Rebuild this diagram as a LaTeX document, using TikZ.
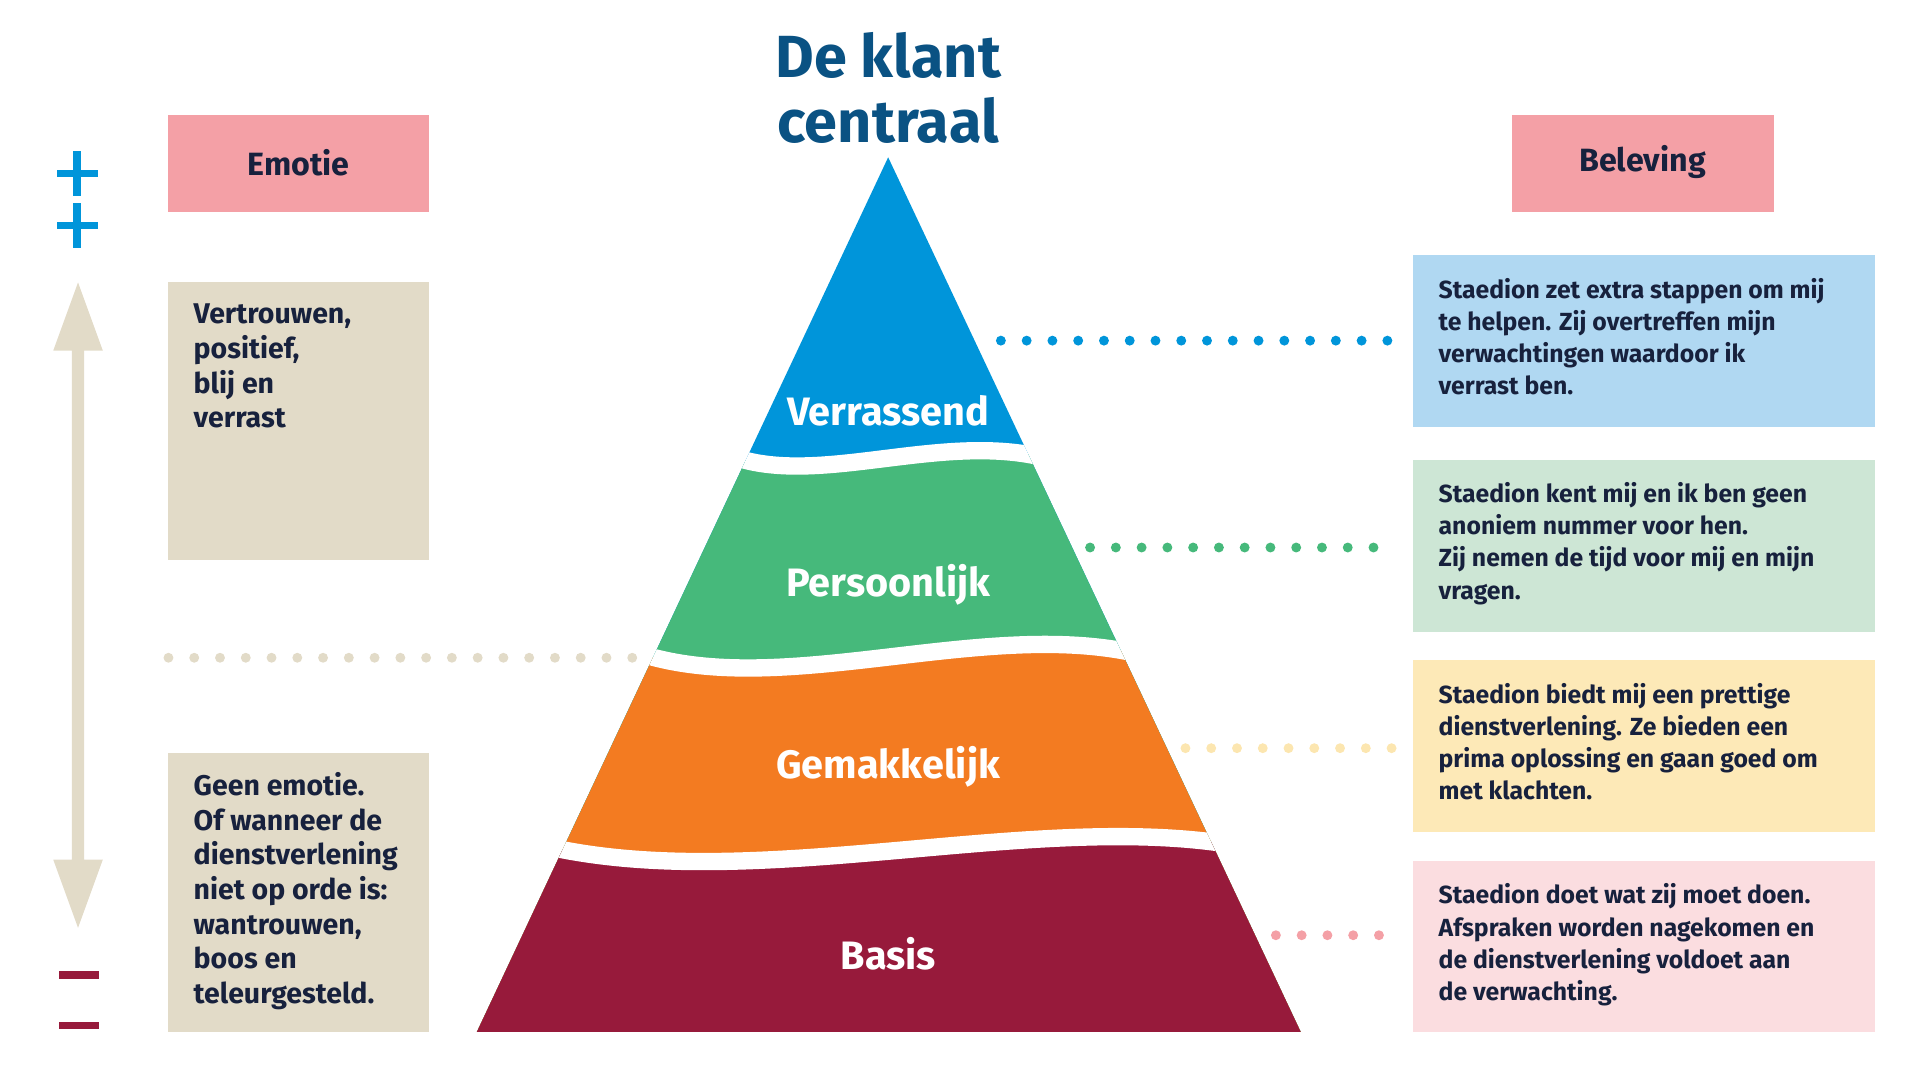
\documentclass[tikz,border=0pt]{standalone}
\usepackage{fontspec}
\setmainfont{Fira Sans}
\definecolor{tblue}{HTML}{0A5283}
\definecolor{pblue}{HTML}{0095DA}
\definecolor{pgreen}{HTML}{46B97B}
\definecolor{porange}{HTML}{F37B21}
\definecolor{pred}{HTML}{971A3B}
\definecolor{pink}{HTML}{F4A0A6}
\definecolor{beige}{HTML}{E2DBC8}
\definecolor{lblue}{HTML}{B0D8F2}
\definecolor{lgreen}{HTML}{CDE6D5}
\definecolor{lyellow}{HTML}{FDE9B7}
\definecolor{lyellowdot}{HTML}{FCE6B0}
\definecolor{lpink}{HTML}{FBDDE0}
\definecolor{ink}{HTML}{17213D}
\begin{document}
\begin{tikzpicture}[x=0.5pt,y=-0.5pt,
  btxt/.style={anchor=north west,align=left,text=ink,font=\fontsize{10}{13}\selectfont\bfseries,inner sep=0pt},
  ltxt/.style={anchor=north west,align=left,text=ink,font=\fontsize{11.5}{14}\selectfont\bfseries,inner sep=0pt},
  head/.style={text=ink,font=\fontsize{13}{15}\selectfont\bfseries},
  plab/.style={text=white,font=\fontsize{16}{18}\selectfont\bfseries},
  dots/.style={line width=4pt,line cap=round,dash pattern=on 0pt off 10.4pt}]
\useasboundingbox (0,0) rectangle (1550,871);
% header boxes
\fill[pink] (136,93) rectangle (346,171);
\node[head] (emo) at (241,131) {Emotie};
\fill[pink] (1221,93) rectangle (1432,171);
\node[head] (bel) at (1326,131) {Beleving};
% left boxes
\fill[beige] (136,228) rectangle (346,452);
\node[ltxt] (t1) at (156,245) {Vertrouwen,\\positief,\\blij en\\verrast};
\fill[beige] (136,608) rectangle (346,833);
\node[ltxt] (t2) at (156,623) {Geen emotie.\\Of wanneer de\\dienstverlening\\niet op orde is:\\wantrouwen,\\boos en\\teleurgesteld.};
% right boxes
\fill[lblue] (1141,206) rectangle (1514,345);
\node[btxt] (r1) at (1161,224) {Staedion zet extra stappen om mij\\te helpen. Zij overtreffen mijn\\verwachtingen waardoor ik\\verrast ben.};
\fill[lgreen] (1141,371) rectangle (1514,510);
\node[btxt] (r2) at (1161,389) {Staedion kent mij en ik ben geen\\anoniem nummer voor hen.\\Zij nemen de tijd voor mij en mijn\\vragen.};
\fill[lyellow] (1141,533) rectangle (1514,672);
\node[btxt] (r3) at (1161,551) {Staedion biedt mij een prettige\\dienstverlening. Ze bieden een\\prima oplossing en gaan goed om\\met klachten.};
\fill[lpink] (1141,695) rectangle (1514,833);
\node[btxt] (r4) at (1161,713) {Staedion doet wat zij moet doen.\\Afspraken worden nagekomen en\\de dienstverlening voldoet aan\\de verwachting.};
% plus / minus
\foreach \y in {140,182}{\fill[pblue] (59,\y-18) rectangle (65,\y+18); \fill[pblue] (46,\y-3) rectangle (79,\y+3);}
\foreach \y in {787,828}{\fill[pred] (48,\y-3) rectangle (80,\y+3);}
% double arrow
\fill[beige] (63,228) -- (83,283) -- (68,283) -- (68,694) -- (83,694) -- (63,749) -- (43,694) -- (58,694) -- (58,283) -- (43,283) -- cycle;
% title
\node[text=tblue,font=\fontsize{24}{26}\selectfont\bfseries,align=center] (title) at (717,71) {De klant\\centraal};
% pyramid
\def\wa{(300,368) -- (590,368) .. controls (660,394) and (760,348) .. (845,370) -- (1150,370)}
\def\wb{(300,527) -- (515,527) .. controls (630,565) and (790,500) .. (915,527) -- (1150,527)}
\def\wc{(300,683) -- (440,683) .. controls (610,722) and (830,655) .. (995,682) -- (1150,682)}
\begin{scope}
\clip (717,127) -- (1050,833) -- (385,833) -- cycle;
\fill[pblue] (300,100) rectangle (1150,900);
\fill[pgreen] \wa -- (1150,900) -- (300,900) -- cycle;
\fill[porange] \wb -- (1150,900) -- (300,900) -- cycle;
\fill[pred] \wc -- (1150,900) -- (300,900) -- cycle;
\draw[white,line width=7pt] \wa;
\draw[white,line width=7pt] \wb;
\draw[white,line width=7pt] \wc;
\end{scope}
\node[plab] (l1) at (717,332) {Verrassend};
\node[plab] (l2) at (717,472) {Persoonlijk};
\node[plab] (l3) at (717,619) {Gemakkelijk};
\node[plab] (l4) at (717,770) {Basis};
% dotted connectors
\coordinate (d1a) at (808,275); \coordinate (d1b) at (1126,275);
\coordinate (d2a) at (880,442); \coordinate (d2b) at (1126,442);
\coordinate (d3a) at (136,531); \coordinate (d3b) at (512,531);
\coordinate (d4a) at (957,604); \coordinate (d4b) at (1126,604);
\coordinate (d5a) at (1030,755); \coordinate (d5b) at (1126,755);
\draw[dots,pblue] (d1a) -- (d1b);
\draw[dots,pgreen] (d2a) -- (d2b);
\draw[dots,beige] (d3a) -- (d3b);
\draw[dots,lyellowdot] (d4a) -- (d4b);
\draw[dots,pink] (d5a) -- (d5b);
\end{tikzpicture}
\end{document}
